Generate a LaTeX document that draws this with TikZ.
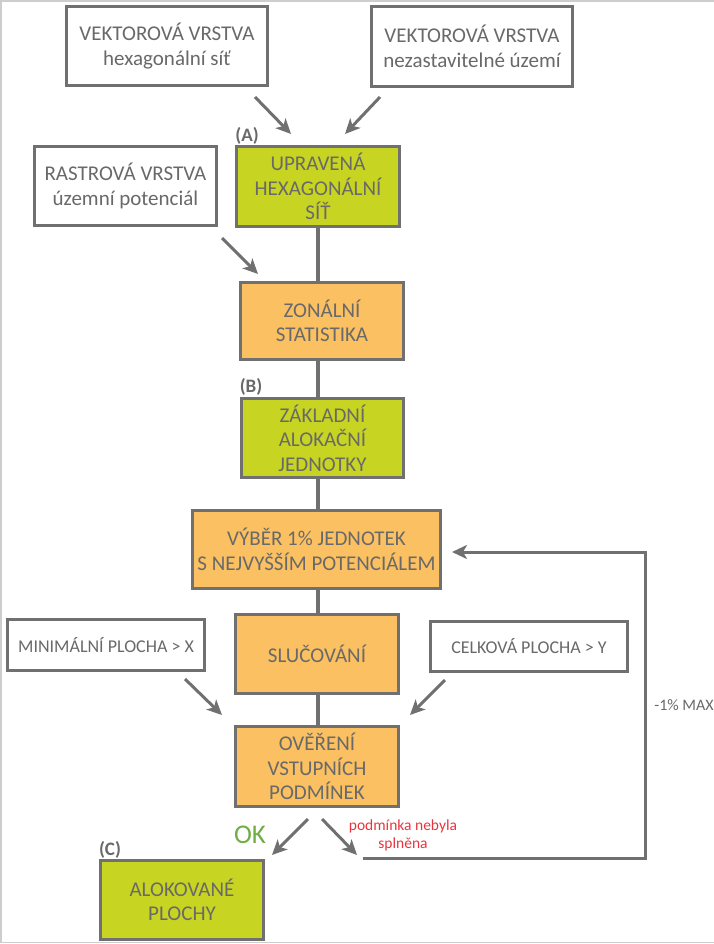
\documentclass[tikz,border=0pt]{standalone}
\usepackage{fontspec}
\setmainfont{Carlito}
\usetikzlibrary{arrows.meta}
\definecolor{txtgray}{RGB}{105,105,105}
\definecolor{linegray}{RGB}{112,112,112}
\definecolor{framegray}{RGB}{205,205,205}
\definecolor{boxgreen}{RGB}{200,212,34}
\definecolor{boxorange}{RGB}{250,192,98}
\definecolor{redtxt}{RGB}{232,52,62}
\definecolor{okgreen}{RGB}{112,173,71}
\tikzset{
  base/.style={draw=linegray, line width=3pt, align=center, text=txtgray, inner sep=0pt,
    font=\fontsize{21}{24.5}\selectfont},
  inbox/.style={base, fill=white},
  greenbox/.style={base, fill=boxgreen},
  orangebox/.style={base, fill=boxorange},
  condbox/.style={base, fill=white, font=\fontsize{18}{20}\selectfont},
  conn/.style={draw=linegray, line width=3.5pt},
  arr/.style={draw=linegray, line width=3pt, -{Stealth[length=15pt,width=14pt,inset=4pt]}},
  tag/.style={text=txtgray, font=\fontsize{19}{22}\selectfont\bfseries, inner sep=0pt},
}
\begin{document}
\begin{tikzpicture}[x=1pt,y=-1pt]
\useasboundingbox (0,0) rectangle (714,944);
% frame
\draw[framegray, line width=1.5pt] (714,1) -- (1,1) -- (1,942.5) -- (714,942.5);
% nodes
\node[inbox, minimum width=201, minimum height=79] (v1) at (167,46) {VEKTOROVÁ VRSTVA\\hexagonální síť};
\node[inbox, minimum width=201, minimum height=80] (v2) at (472,46.5) {VEKTOROVÁ VRSTVA\\nezastavitelné území};
\node[inbox, minimum width=182, minimum height=79] (rast) at (125.5,186) {RASTROVÁ VRSTVA\\územní potenciál};
\node[greenbox, minimum width=163, minimum height=80] (upr) at (318,186.5) {UPRAVENÁ\\HEXAGONÁLNÍ\\SÍŤ};
\node[orangebox, minimum width=163, minimum height=77] (zon) at (322,321) {ZONÁLNÍ\\STATISTIKA};
\node[greenbox, minimum width=162, minimum height=79] (zak) at (322.5,438) {ZÁKLADNÍ\\ALOKAČNÍ\\JEDNOTKY};
\node[orangebox, minimum width=248, minimum height=78] (vyb) at (316.5,549.5) {VÝBĚR 1\% JEDNOTEK\\S NEJVYŠŠÍM POTENCIÁLEM};
\node[orangebox, minimum width=163, minimum height=79] (slu) at (317,654) {SLUČOVÁNÍ};
\node[condbox, minimum width=197, minimum height=51] (minp) at (106,645) {MINIMÁLNÍ PLOCHA > X};
\node[condbox, minimum width=197, minimum height=50] (celk) at (529,646.5) {CELKOVÁ PLOCHA > Y};
\node[orangebox, minimum width=163, minimum height=80] (ove) at (317,766.5) {OVĚŘENÍ\\VSTUPNÍCH\\PODMÍNEK};
\node[greenbox, minimum width=163, minimum height=79] (alo) at (182,900) {ALOKOVANÉ\\PLOCHY};
% tags
\node[tag] (ta) at (247,136) {(A)};
\node[tag] (tb) at (251,387) {(B)};
\node[tag] (tc) at (110,850) {(C)};
\node[text=okgreen, font=\fontsize{27}{30}\selectfont, inner sep=0pt] (ok) at (250,835) {OK};
\node[text=redtxt, font=\fontsize{15.5}{18}\selectfont, align=center, inner sep=0pt] (fail) at (403,835) {podmínka nebyla\\splněna};
\node[text=txtgray, font=\fontsize{16}{18}\selectfont, inner sep=0pt] (max) at (684,705) {-1\% MAX};
% vertical connectors
\draw[conn] (upr.south) -- (upr.south |- zon.north);
\draw[conn] (zon.south -| upr.south) -- (upr.south |- zak.north);
\draw[conn] (zak.south -| upr.south) -- (upr.south |- vyb.north);
\draw[conn] (vyb.south -| upr.south) -- (upr.south |- slu.north);
\draw[conn] (slu.south -| upr.south) -- (upr.south |- ove.north);
% free arrow ends
\coordinate (a1s) at (255,97);  \coordinate (a1e) at (291,134);
\coordinate (a2s) at (380,97);  \coordinate (a2e) at (345,134);
\coordinate (a3s) at (222,238); \coordinate (a3e) at (258,274);
\coordinate (a4s) at (185,679); \coordinate (a4e) at (222,715);
\coordinate (a5s) at (445,680); \coordinate (a5e) at (410,715);
\coordinate (a6s) at (308,819); \coordinate (a6e) at (272,855);
\coordinate (a7s) at (322,819); \coordinate (a7e) at (357,855);
\coordinate (fbs) at (363,858); \coordinate (fbc1) at (645,858);
\coordinate (fbc2) at (645,552); \coordinate (fbe) at (452,552);
\draw[arr] (a1s) -- (a1e);
\draw[arr] (a2s) -- (a2e);
\draw[arr] (a3s) -- (a3e);
\draw[arr] (a4s) -- (a4e);
\draw[arr] (a5s) -- (a5e);
\draw[arr] (a6s) -- (a6e);
\draw[arr] (a7s) -- (a7e);
\draw[arr] (fbs) -- (fbc1) -- (fbc2) -- (fbe);
\end{tikzpicture}
\end{document}
